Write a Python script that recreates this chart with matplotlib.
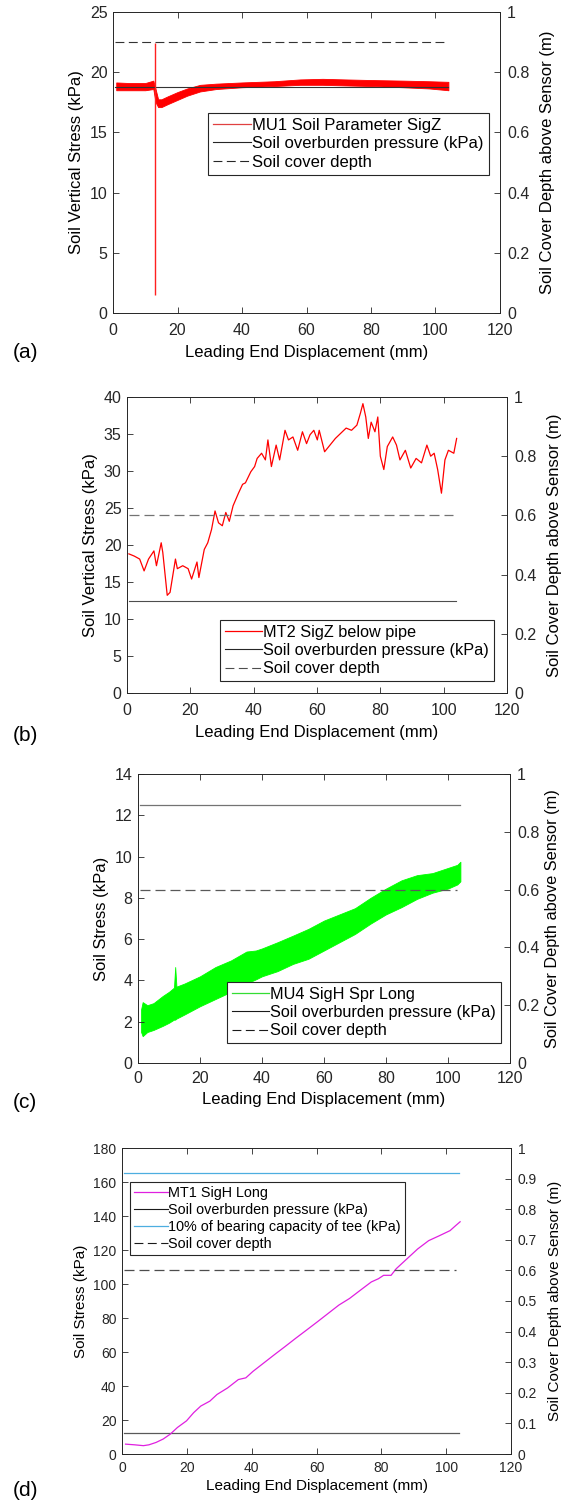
import matplotlib
matplotlib.use('Agg')
import matplotlib.pyplot as plt
from matplotlib.lines import Line2D
from matplotlib.ticker import FuncFormatter
import numpy as np

plt.rcParams['font.family'] = ['Liberation Sans', 'DejaVu Sans']

# ─── (a) MU1 soil parameter SigZ: noisy band, read as lower/upper envelope ───
a_x = [1, 5, 10, 12.5, 13.2, 14, 15, 17, 20, 23, 27, 32, 40, 50, 58, 65, 72, 80, 90, 98, 104]
a_hi = [19.15, 19.1, 19.1, 19.3, 18.6, 17.75, 17.75, 18.0, 18.35, 18.65, 18.95, 19.05,
        19.15, 19.25, 19.4, 19.45, 19.4, 19.35, 19.3, 19.25, 19.2]
a_lo = [18.5, 18.5, 18.5, 18.6, 17.5, 17.1, 17.1, 17.35, 17.7, 18.05, 18.4, 18.6,
        18.75, 18.85, 18.95, 18.95, 18.9, 18.85, 18.75, 18.65, 18.5]
a_spike_x = 13.0
a_spike = [22.4, 1.5]
a_overburden = 18.8
a_cover = 0.9

# ─── (b) MT2 SigZ below pipe ───
b_x = [0.6, 2.3, 4.0, 5.4, 6.8, 8.5, 9.3, 10.8, 11.3, 12.7, 13.6, 15.3, 15.9, 17.6, 19.3,
       20.4, 22.1, 22.7, 24.4, 25.5, 26.7, 27.8, 28.9, 30.1, 31.2, 32.3, 33.5, 35.2, 36.5,
       37.4, 39.1, 40.3, 41.1, 42.5, 43.7, 44.5, 45.6, 47.1, 48.2, 49.9, 51.0, 52.4, 53.9,
       55.4, 56.7, 57.8, 59.0, 60.1, 60.7, 62.4, 64.1, 65.8, 67.5, 69.2, 70.9, 72.6, 73.7,
       74.5, 75.4, 76.2, 77.1, 78.3, 79.2, 80.0, 81.1, 82.2, 83.9, 85.1, 86.2, 87.9, 89.6,
       91.3, 93.0, 94.7, 95.9, 97.0, 98.1, 99.3, 100.4, 101.5, 103.2, 104.1]
b_y = [18.8, 18.5, 18.1, 16.5, 18.1, 19.2, 17.2, 20.3, 19.0, 13.2, 13.6, 18.1, 16.8, 17.2,
       16.8, 15.4, 17.7, 15.6, 19.4, 20.3, 22.1, 24.6, 23.0, 22.6, 24.4, 23.2, 25.3, 27.0,
       28.2, 28.4, 29.9, 30.6, 31.7, 32.4, 31.5, 34.2, 30.6, 33.5, 31.5, 35.5, 34.2, 34.6,
       32.8, 35.3, 33.7, 34.9, 35.5, 34.2, 35.5, 32.6, 33.5, 34.4, 35.1, 35.8, 35.5, 36.2,
       37.8, 39.1, 37.3, 34.4, 36.6, 35.3, 37.3, 32.0, 30.2, 33.3, 34.6, 33.5, 31.5, 32.8,
       30.4, 31.7, 31.1, 33.5, 32.0, 32.4, 30.2, 27.0, 31.5, 32.8, 32.4, 34.4]
b_overburden = 12.5
b_cover = 0.6

# ─── (c) MU4 SigH Spr Long: noisy band envelope ───
c_x = [1, 1.5, 3, 5, 8, 10, 11.6, 12.0, 12.4, 15, 20, 25, 30, 35, 38, 40, 45, 50, 55, 60,
       65, 70, 75, 80, 85, 90, 95, 100, 103, 104]
c_hi = [2.6, 2.95, 2.8, 2.9, 3.25, 3.45, 3.65, 4.65, 3.7, 3.85, 4.2, 4.65, 4.97, 5.4, 5.45,
        5.55, 5.85, 6.17, 6.5, 6.9, 7.2, 7.5, 8.0, 8.45, 8.85, 9.1, 9.2, 9.45, 9.6, 9.75]
c_lo = [1.5, 1.3, 1.5, 1.6, 1.8, 1.95, 2.1, 2.1, 2.15, 2.35, 2.75, 3.1, 3.45, 3.85, 4.05,
        4.2, 4.45, 4.8, 5.05, 5.45, 5.85, 6.25, 6.75, 7.2, 7.55, 7.95, 8.25, 8.45, 8.65, 8.8]
c_overburden = 12.5
c_cover = 0.6

# ─── (d) MT1 SigH Long ───
d_x = [1.1, 3.9, 6.6, 8.3, 10.5, 12.7, 14.9, 17.1, 19.9, 22.1, 24.3, 27.1, 29.3, 32.6, 35.9,
       38.2, 40.4, 43.7, 47.0, 50.3, 53.6, 57.0, 60.3, 63.6, 66.9, 70.2, 73.5, 76.9, 79.1,
       80.7, 83.0, 84.6, 87.9, 91.2, 94.6, 97.9, 101.2, 102.9, 104.3]
d_y = [5.8, 5.4, 4.9, 5.4, 6.8, 8.8, 11.7, 15.6, 19.5, 24.3, 28.2, 31.1, 35.0, 38.9, 43.8,
       44.8, 48.6, 53.5, 58.4, 63.2, 68.1, 73.0, 77.8, 82.7, 87.6, 91.5, 96.3, 101.2, 103.1,
       105.1, 105.1, 109.0, 114.8, 120.6, 125.5, 128.4, 131.4, 134.3, 136.6]
d_overburden = 12.5
d_bearing = 165.5
d_cover = 0.6

line_x = [0.5, 104]
cover_x = [0.5, 103]

W, H = 562, 1500
fig = plt.figure(figsize=(W / 100, H / 100), dpi=100)
fig.patch.set_facecolor('white')

AX_COL = '#262626'
GREY = '0.3'
DASH = (0, (8, 4))


def px_axes(l, t, r, b):
    return fig.add_axes([l / W, (H - b) / H, (r - l) / W, (b - t) / H])


def style(ax, ax2, fs_tick, xpad):
    for a in (ax, ax2):
        for sp in a.spines.values():
            sp.set_color(AX_COL)
            sp.set_linewidth(0.6)
    ax.tick_params(axis='both', direction='in', length=4, width=0.6, colors=AX_COL,
                   labelsize=fs_tick, top=True, right=False, pad=4)
    ax.tick_params(axis='x', pad=xpad)
    ax2.tick_params(axis='y', direction='in', length=4, width=0.6, colors=AX_COL,
                    labelsize=fs_tick, pad=5)
    ax.set_xlim(0, 120)
    ax.set_xticks(range(0, 121, 20))
    ax2.yaxis.set_major_formatter(FuncFormatter(lambda v, p: f'{v:g}'))


def legend(ax2, handles, labels, x, y, fs):
    leg = ax2.legend(handles, labels, loc='upper left', bbox_to_anchor=(x / W, 1 - y / H),
                     bbox_transform=fig.transFigure, borderaxespad=0, fontsize=fs,
                     fancybox=False, framealpha=1, edgecolor=AX_COL, handlelength=2.3,
                     handletextpad=0.05, labelspacing=0.2, borderpad=0.3)
    leg.get_frame().set_linewidth(0.8)


# ─── (a) ───
ax = px_axes(113, 12, 500, 313)
ax2 = ax.twinx()
ax.plot(line_x, [a_overburden] * 2, color='0.2', lw=0.8)
ax.fill_between(a_x, a_lo, a_hi, color='red', lw=0.6, edgecolor='red')
ax.plot([a_spike_x, a_spike_x], a_spike, color='#ff2020', lw=1.0, solid_capstyle='butt')
ax2.plot(cover_x, [a_cover] * 2, color='0.2', lw=0.8, ls=DASH)
ax.set_ylim(0, 25)
ax2.set_ylim(0, 1)
style(ax, ax2, 11.5, 7)
ax.set_ylabel('Soil Vertical Stress (kPa)', fontsize=12)
ax2.set_ylabel('Soil Cover Depth above Sensor (m)', fontsize=12, labelpad=8)
ax.set_xlabel('Leading End Displacement (mm)', fontsize=12, labelpad=5)
legend(ax2,
       [Line2D([], [], color='#e04040', lw=0.9), Line2D([], [], color='0.15', lw=0.8),
        Line2D([], [], color='0.15', lw=0.8, ls=DASH)],
       ['MU1 Soil Parameter SigZ', 'Soil overburden pressure (kPa)', 'Soil cover depth'],
       208, 113, 12)

# ─── (b) ───
ax = px_axes(127, 397, 507, 693)
ax2 = ax.twinx()
ax.plot(line_x, [b_overburden] * 2, color=GREY, lw=0.8)
ax.plot(b_x, b_y, color='red', lw=0.9)
ax2.plot(cover_x, [b_cover] * 2, color='0.45', lw=0.9, ls=DASH)
ax.set_ylim(0, 40)
ax2.set_ylim(0, 1)
style(ax, ax2, 11.5, 7)
ax.set_ylabel('Soil Vertical Stress (kPa)', fontsize=12)
ax2.set_ylabel('Soil Cover Depth above Sensor (m)', fontsize=12, labelpad=8)
ax.set_xlabel('Leading End Displacement (mm)', fontsize=12, labelpad=5)
legend(ax2,
       [Line2D([], [], color='red', lw=0.9), Line2D([], [], color='0.15', lw=0.8),
        Line2D([], [], color='0.3', lw=0.8, ls=DASH)],
       ['MT2 SigZ below pipe', 'Soil overburden pressure (kPa)', 'Soil cover depth'],
       220, 620, 11.7)

# ─── (c) ───
ax = px_axes(138, 774, 510, 1063)
ax2 = ax.twinx()
ax.plot(line_x, [c_overburden] * 2, color='0.45', lw=0.9)
ax.fill_between(c_x, c_lo, c_hi, color='#00ff00', lw=0.6, edgecolor='#00ff00')
ax2.plot(cover_x, [c_cover] * 2, color='0.35', lw=0.9, ls=DASH)
ax.set_ylim(0, 14)
ax2.set_ylim(0, 1)
style(ax, ax2, 11.5, 6)
ax.set_ylabel('Soil Stress (kPa)', fontsize=12)
ax2.set_ylabel('Soil Cover Depth above Sensor (m)', fontsize=11.8, labelpad=4)
ax.set_xlabel('Leading End Displacement (mm)', fontsize=12, labelpad=4)
legend(ax2,
       [Line2D([], [], color='#33dd33', lw=0.9), Line2D([], [], color='0.1', lw=0.8),
        Line2D([], [], color='0.1', lw=0.8, ls=DASH)],
       ['MU4 SigH Spr Long', 'Soil overburden pressure (kPa)', 'Soil cover depth'],
       227, 982, 11.7)

# ─── (d) ───
ax = px_axes(122, 1148, 511, 1454)
ax2 = ax.twinx()
ax.plot(line_x, [d_overburden] * 2, color='0.35', lw=0.9)
ax.plot(line_x, [d_bearing] * 2, color='#4daee0', lw=0.9)
ax.plot(d_x, d_y, color='#e020e0', lw=0.9)
ax2.plot(cover_x, [d_cover] * 2, color='0.3', lw=0.9, ls=DASH)
ax.set_ylim(0, 180)
ax.set_yticks(range(0, 181, 20))
ax2.set_ylim(0, 1)
ax2.set_yticks(np.arange(0, 1.01, 0.1))
style(ax, ax2, 10, 5)
ax.set_ylabel('Soil Stress (kPa)', fontsize=11)
ax2.set_ylabel('Soil Cover Depth above Sensor (m)', fontsize=11, labelpad=8)
ax.set_xlabel('Leading End Displacement (mm)', fontsize=11, labelpad=3)
legend(ax2,
       [Line2D([], [], color='#e020e0', lw=0.9), Line2D([], [], color='0.1', lw=0.8),
        Line2D([], [], color='#4daee0', lw=0.9), Line2D([], [], color='0.1', lw=0.8, ls=DASH)],
       ['MT1 SigH Long', 'Soil overburden pressure (kPa)',
        '10% of bearing capacity of tee (kPa)', 'Soil cover depth'],
       130, 1182, 10.4)

# panel letters
for lab, yc in [('(a)', 353), ('(b)', 736), ('(c)', 1102), ('(d)', 1490)]:
    fig.text(13 / W, 1 - yc / H, lab, fontsize=15, ha='left', va='center')

fig.savefig('out.png', dpi=100, facecolor='white')
